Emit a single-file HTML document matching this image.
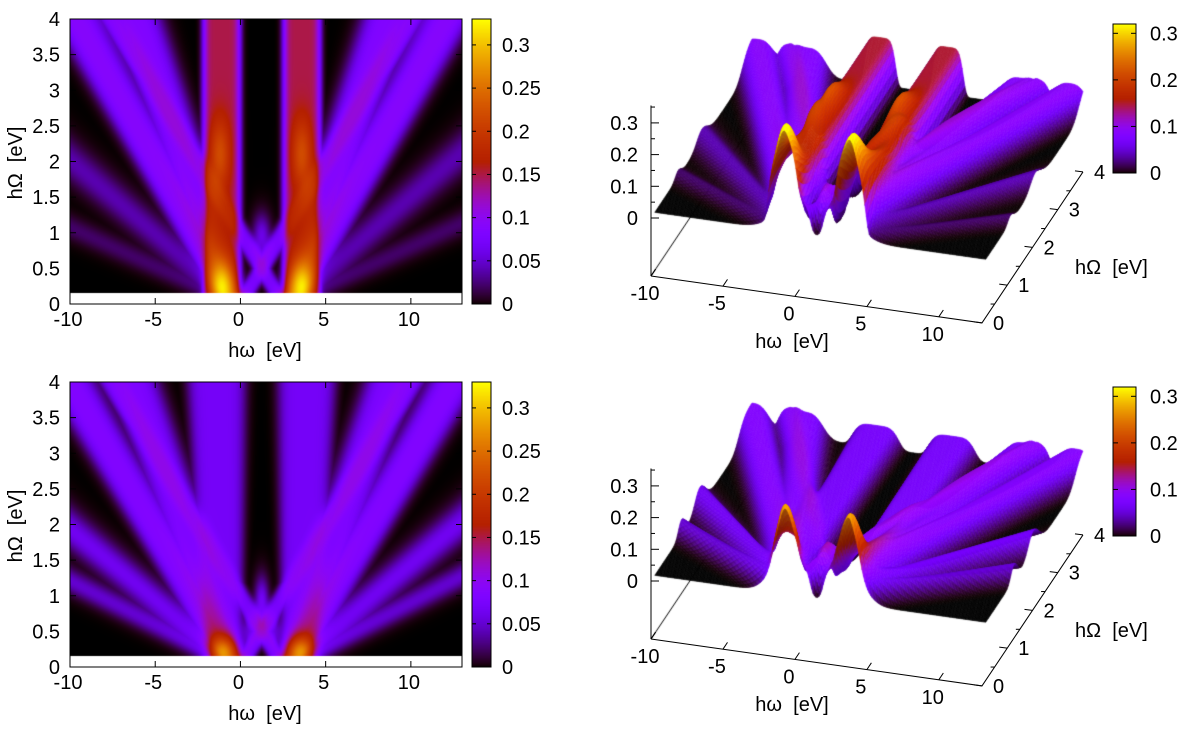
<!DOCTYPE html>
<html><head><meta charset="utf-8"><style>
html,body{margin:0;padding:0;background:#fff;}
#wrap{position:relative;width:1200px;height:731px;overflow:hidden;}
canvas,svg{position:absolute;left:0;top:0;}
text{font-family:"Liberation Sans",sans-serif;font-size:20px;fill:#000;white-space:pre;}
</style></head><body>
<div id="wrap">
<canvas id="cv" width="1200" height="731"></canvas>
<svg id="sv" width="1200" height="731"></svg>
</div>
<script>
// ---- data ----
const omegaTicks = [-10,-5,0,5,10];
const bigOmegaTicks = [0,0.5,1,1.5,2,2.5,3,3.5,4];
const bigOmegaTicks3d = [0,1,2,3,4];
const cbTicks2d = [0,0.05,0.1,0.15,0.2,0.25,0.3];
const cbTicks3d = [0,0.1,0.2,0.3];
const zTicks = [0,0.1,0.2,0.3];
// panel A (top) bands: centre at Omega=0, slope dω/dΩ, amplitude, width, edge power
const bandCenterA = [-1.1, 3.6, -0.4, -0.3, -0.3, -0.3, 2.9, 2.8, 2.8, 2.8, 0, 2.5];
const bandSlopeA  = [0, 0, -2.3, -1.45, -4.8, -9, 2.3, 1.45, 4.8, 9, 2.5, -2.5];
const bandAmpA    = [0.15, 0.15, 0.09, 0.085, 0.04, 0.022, 0.09, 0.085, 0.04, 0.022, 0.075, 0.075];
const bandWidthA  = [1.12, 1.12, 0.9, 0.9, 1.1, 1.3, 0.9, 0.9, 1.1, 1.3, 0.5, 0.5];
const bandPowA    = [6, 6, 3, 3, 2, 2, 3, 3, 2, 2, 3, 3];
const spotOmegaA    = [-1.2, 3.6, -1.1, 3.6, 1.25];
const spotBigOmegaA = [2.1, 2.1, 0.25, 0.25, 0.95];
const spotAmpA      = [0.07, 0.07, 0.1, 0.1, 0.06];
const spotRwA       = [0.6, 0.6, 0.7, 0.7, 0.5];
const spotRhA       = [0.5, 0.5, 0.35, 0.35, 0.3];
// panel B (bottom)
const bandCenterB = [-1, 3.5, -0.4, -0.3, -0.3, -0.3, 2.9, 2.8, 2.8, 2.8, 0, 2.5];
const bandSlopeB  = [-0.1, 0.1, -2.4, -1.5, -5, -8, 2.4, 1.5, 5, 8, 2.5, -2.5];
const bandAmpB    = [0.07, 0.07, 0.085, 0.08, 0.065, 0.05, 0.085, 0.08, 0.065, 0.05, 0.07, 0.07];
const bandWidthB  = [1.05, 1.05, 0.9, 0.9, 1.1, 1.2, 0.9, 0.9, 1.1, 1.2, 0.5, 0.5];
const bandPowB    = [5, 5, 3, 3, 2, 2, 3, 3, 2, 2, 3, 3];
const spotOmegaB    = [-1, 3.5, 1.25, 0.5, 2.0];
const spotBigOmegaB = [0.22, 0.22, 0.9, 0.5, 0.5];
const spotAmpB      = [0.11, 0.11, 0.07, 0.05, 0.05];
const spotRwB       = [0.8, 0.8, 0.4, 0.4, 0.4];
const spotRhB       = [0.22, 0.22, 0.35, 0.2, 0.2];

const panels = [
 {bc:bandCenterA,bs:bandSlopeA,ba:bandAmpA,bw:bandWidthA,bp:bandPowA,so:spotOmegaA,sb:spotBigOmegaA,sa:spotAmpA,sw:spotRwA,sh:spotRhA,dy:0,name:'top'},
 {bc:bandCenterB,bs:bandSlopeB,ba:bandAmpB,bw:bandWidthB,bp:bandPowB,so:spotOmegaB,sb:spotBigOmegaB,sa:spotAmpB,sw:spotRwB,sh:spotRhB,dy:363,name:'bottom'}
];

function model(p,w,W){
  let s=0,m=0;
  for(let i=0;i<p.bc.length;i++){
    const d=w-(p.bc[i]+p.bs[i]*W);
    const wd=p.bw[i]*(p.bs[i]===0?1:(1+0.15*W));
    const v=p.ba[i]*Math.exp(-Math.pow(Math.abs(d/wd),p.bp[i]));
    s+=v; if(v>m)m=v;
  }
  let v=m+0.35*(s-m);
  for(let i=0;i<p.so.length;i++){
    const a=(w-p.so[i])/p.sw[i], b=(W-p.sb[i])/p.sh[i];
    v+=p.sa[i]*Math.exp(-a*a-b*b);
  }
  return Math.min(v,0.33);
}
function pal(x){
  x=Math.max(0,Math.min(1,x));
  const r=Math.sqrt(x), g=x*x*x, b=Math.max(0,Math.sin(2*Math.PI*x));
  return [Math.round(r*255),Math.round(g*255),Math.round(b*255)];
}
const cv=document.getElementById('cv'), ctx=cv.getContext('2d');
const sv=document.getElementById('sv'), NS='http://www.w3.org/2000/svg';
function el(tag,attrs,parent){const e=document.createElementNS(NS,tag);for(const k in attrs)e.setAttribute(k,attrs[k]);(parent||sv).appendChild(e);return e;}
function txt(x,y,s,anchor,name,parent){const t=el('text',{x:x,y:y,'text-anchor':anchor||'middle'},parent);t.textContent=s;
  
  
  return t;}

const L=70,R=462,T=19,B=304,W0=-10,W1=13,OMax=4;
const sx=w=>L+(w-W0)/(W1-W0)*(R-L);
const sy=(W,dy)=>B+dy-(W/OMax)*(B-T);

panels.forEach(p=>{
  const dy=p.dy;
  const g=el('g',{});
  
  
  const y0=T+dy, y1=Math.round(sy(0.15,dy));
  const wpx=R-L, hpx=y1-y0;
  const img=ctx.createImageData(wpx,hpx);
  for(let j=0;j<hpx;j++){
    const W=(B+dy-(y0+j+0.5))/(B-T)*OMax;
    for(let i=0;i<wpx;i++){
      const w=W0+(i+0.5)/wpx*(W1-W0);
      const c=pal(model(p,w,W)/0.33);
      const k=(j*wpx+i)*4;img.data[k]=c[0];img.data[k+1]=c[1];img.data[k+2]=c[2];img.data[k+3]=255;
    }
  }
  ctx.putImageData(img,L,y0);
  const fr=el('rect',{x:L,y:T+dy,width:R-L,height:B-T,fill:'none',stroke:'#000','stroke-width':1},g);
  
  
  omegaTicks.forEach(w=>{const x=sx(w);
    el('line',{x1:x,y1:B+dy,x2:x,y2:B+dy-6,stroke:'#000'},g);
    el('line',{x1:x,y1:T+dy,x2:x,y2:T+dy+6,stroke:'#000'},g);
    txt(x-2,B+dy+22,String(w),'middle','x-tick-label',g);});
  bigOmegaTicks.forEach(W=>{const y=sy(W,dy);
    el('line',{x1:L,y1:y,x2:L+6,y2:y,stroke:'#000'},g);
    el('line',{x1:R,y1:y,x2:R-6,y2:y,stroke:'#000'},g);
    txt(L-10,y+7,String(W),'end','y-tick-label',g);});
  txt(265,B+dy+53,'hω  [eV]','middle','x-axis-title',g);
  const yt=txt(0,0,'hΩ  [eV]','middle','y-axis-title',g);
  yt.setAttribute('transform','translate(22,'+(163+dy)+') rotate(-90)');
  const cx0=472,cx1=491;
  for(let y=T+dy;y<B+dy;y++){const c=pal((B+dy-y)/(B-T));ctx.fillStyle='rgb('+c+')';ctx.fillRect(cx0,y,cx1-cx0,1);}
  const cb=el('rect',{x:cx0,y:T+dy,width:cx1-cx0,height:B-T,fill:'none',stroke:'#000'},g);
  
  
  cbTicks2d.forEach(v=>{const y=B+dy-v/0.33*(B-T);
    el('line',{x1:cx0,y1:y,x2:cx0+4,y2:y,stroke:'#000'},g);
    el('line',{x1:cx1,y1:y,x2:cx1-4,y2:y,stroke:'#000'},g);
    txt(502,y+7,String(v),'start','colorbar-tick-label',g);});
});

const P0={x:651,y:218}, ex={x:14.39,y:2.04}, ey={x:25.25,y:-37.75}, ezs=317, baseDrop=58;
function proj(w,W,z,dy){return {x:P0.x+(w-W0)*ex.x+W*ey.x, y:P0.y+dy+(w-W0)*ex.y+W*ey.y-z*ezs};}
panels.forEach(p=>{
  const dy=p.dy;
  const g=el('g',{});
  
  
  const bp=(w,W)=>{const q=proj(w,W,0,dy);return {x:q.x,y:q.y+baseDrop};};
  const fl=bp(-10,0),fr=bp(13,0),br=bp(13,4),bl=bp(-10,4);
  ctx.strokeStyle='#000';ctx.lineWidth=1;
  ctx.beginPath();ctx.moveTo(fl.x,fl.y);ctx.lineTo(bl.x,bl.y);ctx.stroke();
  const dw=0.1,dW=0.05,Wmin=0.15;
  const nW=Math.round((OMax-Wmin)/dW), nw=Math.round((W1-W0)/dw);
  const Z=[];
  for(let j=0;j<=nW;j++){Z.push([]);for(let i=0;i<=nw;i++)Z[j].push(model(p,W0+i*dw,Wmin+j*dW));}
  for(let j=nW-1;j>=0;j--){
    for(let i=0;i<nw;i++){
      const w=W0+i*dw,W=Wmin+j*dW;
      const a=proj(w,W,Z[j][i],dy),b=proj(w+dw,W,Z[j][i+1],dy),c=proj(w+dw,W+dW,Z[j+1][i+1],dy),d=proj(w,W+dW,Z[j+1][i],dy);
      const zm=(Z[j][i]+Z[j][i+1]+Z[j+1][i]+Z[j+1][i+1])/4;
      const gx=(Z[j][i+1]-Z[j][i])/dw, gy=(Z[j+1][i]-Z[j][i])/dW;
      const sh=Math.max(0.7,Math.min(1.08,1-1.5*gx+0.6*gy));
      const col=pal(zm/0.32).map(v=>Math.min(255,Math.round(v*sh)));
      ctx.fillStyle=ctx.strokeStyle='rgb('+col+')';
      ctx.lineWidth=0.6;
      ctx.beginPath();ctx.moveTo(a.x,a.y);ctx.lineTo(b.x,b.y);ctx.lineTo(c.x,c.y);ctx.lineTo(d.x,d.y);ctx.closePath();ctx.fill();ctx.stroke();
    }
  }
  const e1=el('polyline',{points:fl.x+','+fl.y+' '+fr.x+','+fr.y+' '+br.x+','+br.y,fill:'none',stroke:'#000'},g);
  
  
  const zTop=proj(-10,0,0.355,dy);
  el('line',{x1:fl.x,y1:fl.y,x2:fl.x,y2:zTop.y,stroke:'#000'},g);
  for(let v=0;v<=0.35;v+=0.05){const y=proj(-10,0,v,dy).y;el('line',{x1:fl.x,y1:y,x2:fl.x+(Math.abs(v*10-Math.round(v*10))<1e-6?8:4),y2:y,stroke:'#000'},g);}
  zTicks.forEach(v=>{const y=proj(-10,0,v,dy).y;txt(fl.x-13,y+7,String(v),'end','z-tick-label',g);});
  omegaTicks.forEach(w=>{const q=bp(w,0);
    el('line',{x1:q.x,y1:q.y,x2:q.x+ey.x*0.18,y2:q.y+ey.y*0.18,stroke:'#000'},g);
    txt(q.x-6,q.y+24,String(w),'middle','x-tick-label',g);});
  bigOmegaTicks3d.forEach(W=>{const q=bp(13,W);
    el('line',{x1:q.x,y1:q.y,x2:q.x-8,y2:q.y-1,stroke:'#000'},g);
    txt(q.x+11,q.y+7,String(W),'start','y-tick-label',g);});
  for(let W=0.5;W<4;W+=1){const q=bp(13,W);el('line',{x1:q.x,y1:q.y,x2:q.x-4,y2:q.y,stroke:'#000'},g);}
  txt(792,348+dy,'hω  [eV]','middle','x-axis-title',g);
  txt(1075,274+dy,'hΩ  [eV]','start','y-axis-title',g);
  const cx0=1113,cx1=1136,ct=24+dy,cbt=173+dy;
  for(let y=ct;y<cbt;y++){const c=pal((cbt-y)/(cbt-ct));ctx.fillStyle='rgb('+c+')';ctx.fillRect(cx0,y,cx1-cx0,1);}
  const cb=el('rect',{x:cx0,y:ct,width:cx1-cx0,height:cbt-ct,fill:'none',stroke:'#000'},g);
  
  
  cbTicks3d.forEach(v=>{const y=cbt-v/0.32*(cbt-ct);
    el('line',{x1:cx0,y1:y,x2:cx0+5,y2:y,stroke:'#000'},g);
    el('line',{x1:cx1,y1:y,x2:cx1-5,y2:y,stroke:'#000'},g);
    txt(1150,y+7,String(v),'start','colorbar-tick-label',g);});
});
</script>
</body></html>
